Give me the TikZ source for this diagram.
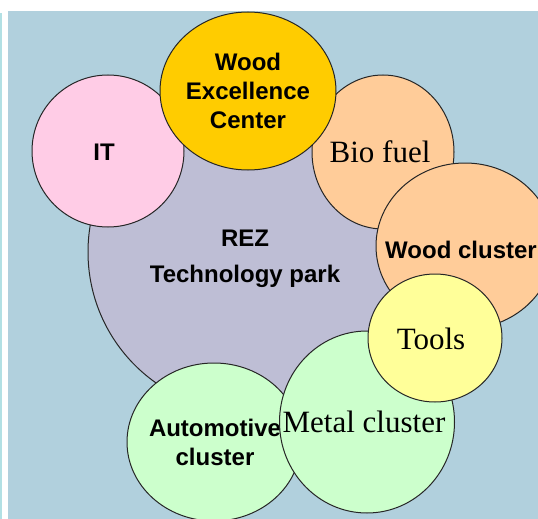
\documentclass[tikz,border=0pt]{standalone}
\usepackage{fontspec}
\setmainfont{Liberation Serif}
\setsansfont{Liberation Sans}
\usetikzlibrary{shapes.geometric, positioning}
\usepackage{xcolor}
\definecolor{bgblue}{RGB}{177,208,221}
\definecolor{barcyan}{RGB}{178,224,228}
\definecolor{rezgray}{RGB}{190,190,213}
\definecolor{itpink}{RGB}{255,204,230}
\definecolor{woodgold}{RGB}{255,204,0}
\definecolor{peach}{RGB}{255,204,153}
\definecolor{toolyellow}{RGB}{255,255,153}
\definecolor{mintgreen}{RGB}{204,255,204}
\tikzstyle{blob} = [
    ellipse,
    draw=black!85,
    line width=1pt,
    inner sep=0pt,
    outer sep=0pt
]
\tikzstyle{sanslabel} = [
    font=\fontsize{24}{29}\selectfont\sffamily\bfseries,
    align=center,
    inner sep=0pt
]
\tikzstyle{seriflabel} = [
    font=\fontsize{31}{36}\selectfont,
    inner sep=0pt
]

\begin{document}
\begin{tikzpicture}[on grid]
    \useasboundingbox (0,0) rectangle (538pt,-519pt);
    \fill[barcyan] (0,-13pt) rectangle (2pt,-519pt);
    \fill[bgblue] (7.5pt,-11pt) rectangle (538pt,-519pt);

    \node[blob, fill=rezgray, minimum width=320pt, minimum height=320pt,
          label={[sanslabel, xshift=-3pt, yshift=-7pt]center:REZ\\[7pt]Technology park}]
          (rez) at (248pt,-252pt) {};
    \node[blob, fill=itpink, minimum width=152pt, minimum height=152pt,
          label={[sanslabel, xshift=-4pt, yshift=-1pt]center:IT}]
          (it) [above left=101pt and 140pt of rez] {};
    \node[blob, fill=peach, minimum width=142pt, minimum height=154pt,
          label={[seriflabel, xshift=-3pt]center:Bio fuel}]
          (biofuel) [above right=100pt and 135pt of rez] {};
    \node[blob, fill=woodgold, minimum width=176pt, minimum height=158pt,
          label={[sanslabel]center:Wood\\Excellence\\Center}]
          (excellence) [above=161pt of rez] {};
    \node[blob, fill=peach, minimum width=178pt, minimum height=166pt,
          label={[sanslabel, xshift=-4pt, yshift=-4pt]center:Wood cluster}]
          (woodcluster) [above right=6pt and 217pt of rez] {};
    \node[blob, fill=mintgreen, minimum width=174pt, minimum height=158pt,
          label={[sanslabel, xshift=1pt]center:Automotive\\cluster}]
          (automotive) [below left=190pt and 34pt of rez] {};
    \node[blob, fill=mintgreen, minimum width=175pt, minimum height=182pt,
          label={[seriflabel, xshift=-3pt]center:Metal cluster}]
          (metal) [below right=170pt and 119pt of rez] {};
    \node[blob, fill=toolyellow, minimum width=134pt, minimum height=128pt,
          label={[seriflabel, xshift=-4pt, yshift=-1pt]center:Tools}]
          (tools) [below right=86pt and 187pt of rez] {};
\end{tikzpicture}
\end{document}
